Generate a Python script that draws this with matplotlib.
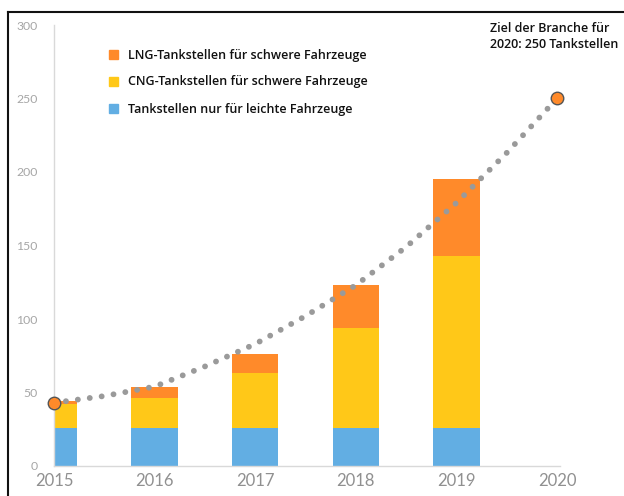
import matplotlib
matplotlib.use("Agg")
import matplotlib.pyplot as plt
from matplotlib.lines import Line2D
from matplotlib.patches import Rectangle
import numpy as np

# ── Data ──────────────────────────────────────────────────────────────────────
years = [2015, 2016, 2017, 2018, 2019]
light_only = [26, 26, 26, 26, 26]          # Tankstellen nur für leichte Fahrzeuge
cng_heavy = [16, 20, 37, 68, 117]          # CNG-Tankstellen für schwere Fahrzeuge
lng_heavy = [2, 8, 13, 29, 52]             # LNG-Tankstellen für schwere Fahrzeuge

trend_x = [2015, 2015.5, 2016, 2016.5, 2017, 2017.5, 2018, 2018.5, 2019, 2019.5, 2020]
trend_y = [43, 47.6, 54, 67.7, 83, 102, 123, 149, 179, 213, 250]
marker_x = [2015, 2020]
marker_y = [43, 250]

x_ticks = [2015, 2016, 2017, 2018, 2019, 2020]
y_ticks = [0, 50, 100, 150, 200, 250, 300]

labels = ["LNG-Tankstellen für schwere Fahrzeuge",
          "CNG-Tankstellen für schwere Fahrzeuge",
          "Tankstellen nur für leichte Fahrzeuge"]

C_BLUE = "#62aee3"
C_YELLOW = "#ffc818"
C_ORANGE = "#ff8a2a"
C_GREY = "#a6a6a6"

fig = plt.figure(figsize=(6.24, 4.96), dpi=100)
ax = fig.add_axes([54 / 624, 1 - 466 / 496, (560 - 54) / 624, (466 - 25) / 496])

w = 0.46
light = np.array(light_only)
cng = np.array(cng_heavy)
ax.bar(years, light, width=w, color=C_BLUE, zorder=2)
ax.bar(years, cng, width=w, bottom=light, color=C_YELLOW, zorder=2)
ax.bar(years, lng_heavy, width=w, bottom=light + cng, color=C_ORANGE, zorder=2)

ax.plot(trend_x, trend_y, color="#9a9a9a", linewidth=4.2,
        linestyle=(0, (0.01, 2.05)), dash_capstyle="round", zorder=3, clip_on=False)
ax.plot(marker_x, marker_y, linestyle="none", marker="o", markersize=9,
        markerfacecolor=C_ORANGE, markeredgecolor="#555555", markeredgewidth=1.0,
        zorder=4, clip_on=False)

ax.set_xlim(2015, 2020.03)
ax.set_ylim(0, 300)
ax.set_xticks(x_ticks)
ax.set_xticklabels([str(v) for v in x_ticks], family="Lato", fontsize=12, color="#909090")
ax.set_yticks(y_ticks)
ax.set_yticklabels([str(v) for v in y_ticks], family="Lato", fontsize=8.8, color=C_GREY)
ax.tick_params(axis="both", length=0)
ax.tick_params(axis="y", pad=12)
ax.tick_params(axis="x", pad=5)

for s in ["top", "right"]:
    ax.spines[s].set_visible(False)
ax.spines["left"].set_color("#d9d9d9")
ax.spines["bottom"].set_color("#d9d9d9")
ax.spines["left"].set_linewidth(1.0)
ax.spines["bottom"].set_linewidth(1.0)

# ── Legend drawn manually ─────────────────────────────────────────────────────
for i, (lab, col) in enumerate(zip(labels, [C_ORANGE, C_YELLOW, C_BLUE])):
    yy = 1 - (55 + i * 27) / 496
    fig.add_artist(Rectangle((109 / 624, yy - 4.5 / 496), 9 / 624, 9 / 496,
                             transform=fig.transFigure, color=col))
    fig.text(128 / 624, yy, lab, family="Open Sans", fontweight="semibold",
             fontsize=9.0, va="center", ha="left", color="#111111")

fig.text(490 / 624, 1 - 37 / 496, "Ziel der Branche für\n2020: 250 Tankstellen",
         family="Open Sans", fontweight="semibold", fontsize=9.0, va="center",
         ha="left", color="#111111", linespacing=1.3)

# ── Frame lines ───────────────────────────────────────────────────────────────
fig.add_artist(Line2D([7.5 / 624, 7.5 / 624], [0, 1 - 12 / 496],
                      transform=fig.transFigure, color="#111111", linewidth=1.5))
fig.add_artist(Line2D([7.5 / 624, 1], [1 - 12 / 496, 1 - 12 / 496],
                      transform=fig.transFigure, color="#111111", linewidth=1.5))

fig.savefig("out.png", dpi=100)
